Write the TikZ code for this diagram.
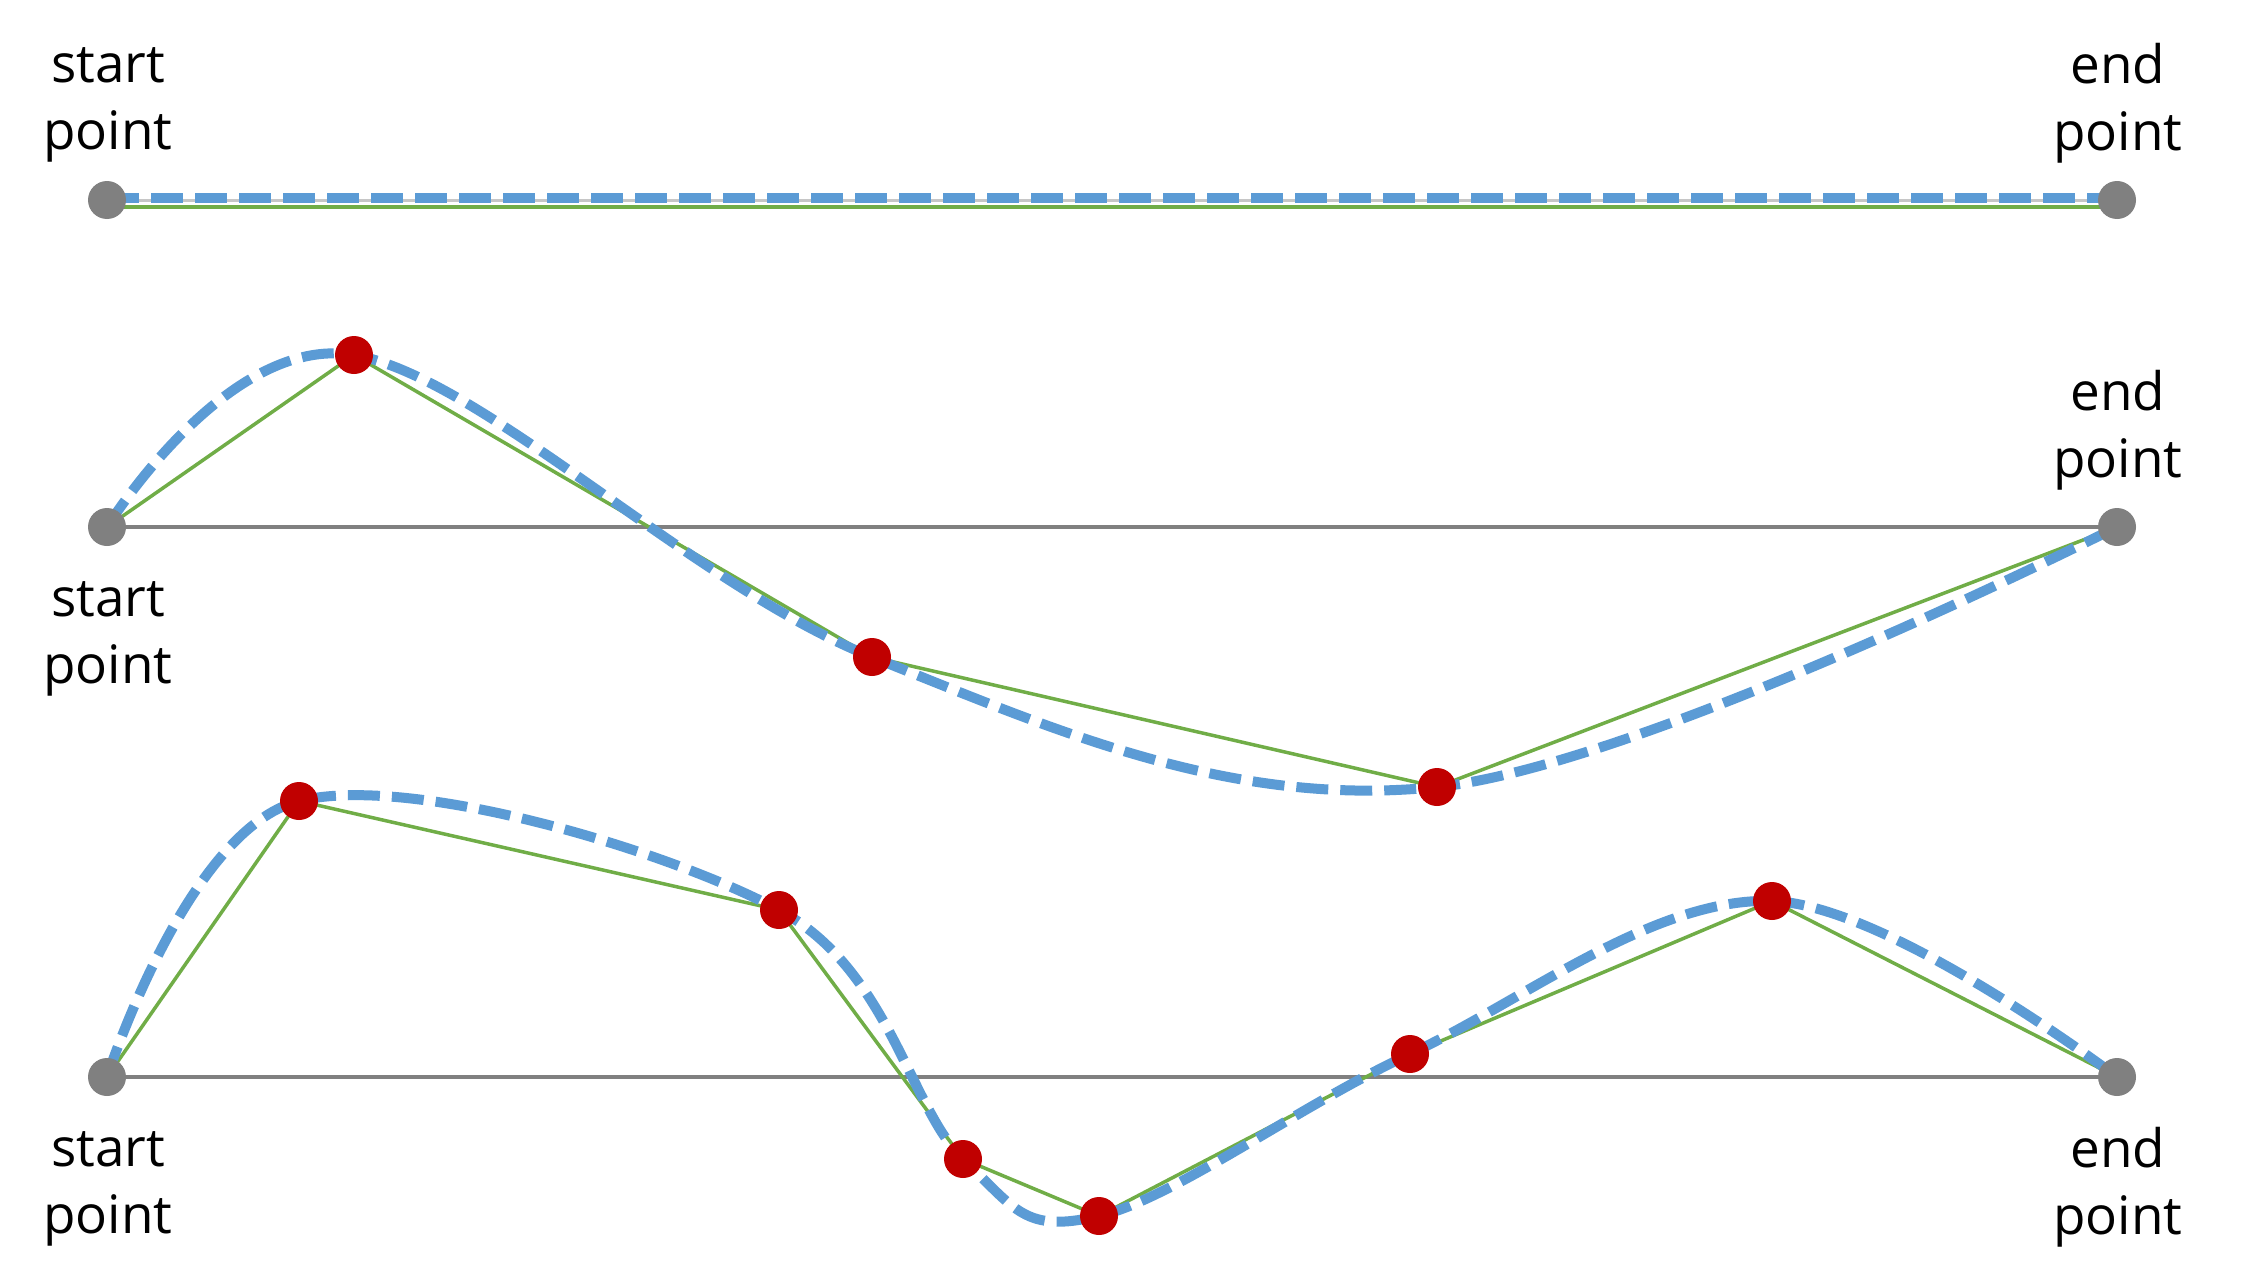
\documentclass[tikz,border=0pt]{standalone}
\usepackage{fontspec}
\setmainfont{Open Sans}
\usetikzlibrary{backgrounds}
\definecolor{cblue}{HTML}{5B9BD5}
\definecolor{cgreen}{HTML}{70AD47}
\definecolor{cred}{HTML}{C00000}
\definecolor{cgray}{HTML}{808080}
\tikzset{
  endpt/.style={circle, fill=cgray, minimum size=38pt, inner sep=0pt},
  ctrlpt/.style={circle, fill=cred, minimum size=38pt, inner sep=0pt},
  lbl/.style={align=center, inner sep=0pt, font=\fontsize{53}{67}\selectfont},
  curveline/.style={cblue, line width=10pt, dash pattern=on 32pt off 12pt},
  polyline/.style={cgreen, line width=3.5pt},
  baseline/.style={cgray, line width=4pt},
}
\begin{document}
\begin{tikzpicture}[x=1pt,y=-1pt]
\useasboundingbox (0,0) rectangle (2246,1279);
% ---------- row 1
\node[endpt] (s1) at (107,200) {};
\node[endpt] (e1) at (2117,200) {};
\node[lbl] (ls1) at (108,105) {start\\point};
\node[lbl] (le1) at (2118,103) {end\\point};
% ---------- row 2
\node[endpt] (s2) at (107,527) {};
\node[endpt] (e2) at (2117,527) {};
\node[ctrlpt] (a1) at (354,355) {};
\node[ctrlpt] (a2) at (872,657) {};
\node[ctrlpt] (a3) at (1437,787) {};
\node[lbl] (ls2) at (108,639) {start\\point};
\node[lbl] (le2) at (2118,430) {end\\point};
% ---------- row 3
\node[endpt] (s3) at (107,1077) {};
\node[endpt] (e3) at (2117,1077) {};
\node[ctrlpt] (b1) at (299,801) {};
\node[ctrlpt] (b2) at (779,910) {};
\node[ctrlpt] (b3) at (963,1159) {};
\node[ctrlpt] (b4) at (1099,1216) {};
\node[ctrlpt] (b5) at (1410,1054) {};
\node[ctrlpt] (b6) at (1772,901) {};
\node[lbl] (ls3) at (108,1189) {start\\point};
\node[lbl] (le3) at (2118,1187) {end\\point};
\begin{pgfonlayer}{background}
  % row 1
  \draw[cgray!45, line width=3pt] (s1.center) -- (e1.center);
  \draw[polyline] ([yshift=-7pt]s1.center) -- ([yshift=-7pt]e1.center);
  \draw[curveline] ([yshift=2pt]s1.center) -- ([yshift=2pt]e1.center);
  % row 2
  \draw[baseline] (s2.center) -- (e2.center);
  \draw[polyline] (s2.center) -- (a1.center) -- (a2.center) -- (a3.center) -- (e2.center);
  \draw[curveline] plot[smooth, tension=0.6] coordinates {(s2) (a1) (a2) (a3) (e2)};
  % row 3
  \draw[baseline] (s3.center) -- (e3.center);
  \draw[polyline] (s3.center) -- (b1.center) -- (b2.center) -- (b3.center) -- (b4.center) -- (b5.center) -- (b6.center) -- (e3.center);
  \draw[curveline] plot[smooth, tension=0.6] coordinates {(s3) (b1) (b2) (b3) (b4) (b5) (b6) (e3)};
\end{pgfonlayer}
\end{tikzpicture}
\end{document}
